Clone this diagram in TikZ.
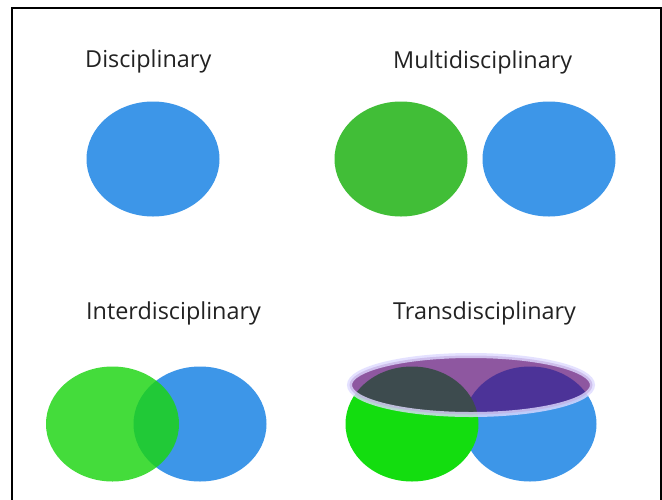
\documentclass[tikz,border=0pt]{standalone}
\usepackage{fontspec}
\setmainfont{Open Sans}
\usetikzlibrary{shapes.geometric}
\definecolor{discblue}{RGB}{61,150,232}
\definecolor{multigreen}{RGB}{65,190,55}
\definecolor{intergreen}{RGB}{27,213,17}
\definecolor{transgreen}{RGB}{19,221,15}
\definecolor{transpurple}{RGB}{84,0,111}
\definecolor{ringlav}{RGB}{222,218,255}
\definecolor{labelgray}{RGB}{34,34,34}
\tikzset{
  blob/.style={ellipse, inner sep=0pt, minimum width=133pt, minimum height=115pt},
  title/.style={anchor=base west, inner sep=0pt, text=labelgray, font=\fontsize{23.4pt}{28pt}\selectfont},
  frameline/.style={line width=2pt, black}
}
\begin{document}
\begin{tikzpicture}[x=1pt, y=-1pt]
\useasboundingbox (0,0) rectangle (662,499);
\fill[white] (0,0) rectangle (662,499);
% open frame: top and sides only
\coordinate (fbl) at (11.5,505);
\coordinate (ftl) at (11.5,7.5);
\coordinate (ftr) at (660.5,7.5);
\coordinate (fbr) at (660.5,505);
\draw[frameline] (fbl) -- (ftl) -- (ftr) -- (fbr);

% titles
\node[title] (tdisc)  at (85,67)  {Disciplinary};
\node[title] (tmulti) at (393,68) {Multidisciplinary};
\node[title] (tinter) at (86,319) {Interdisciplinary};
\node[title] (ttrans) at (393,319) {Transdisciplinary};

% disciplinary
\node[blob, fill=discblue] (d1) at (153,159) {};

% multidisciplinary
\node[blob, fill=multigreen] (m1) at (401,159) {};
\node[blob, fill=discblue]   (m2) at (549,159) {};

% interdisciplinary
\node[blob, fill=discblue] (i2) at (200,424) {};
\node[blob, fill=intergreen, fill opacity=0.82] (i1) at (112.5,424) {};

% transdisciplinary
\node[blob, fill=discblue]   (t2) at (530,424) {};
\node[blob, fill=transgreen] (t1) at (412,424) {};
\node[ellipse, inner sep=0pt, minimum width=243pt, minimum height=59pt,
      fill=transpurple, fill opacity=0.66,
      draw=ringlav, draw opacity=0.8, line width=5pt] (tring) at (471,385) {};
\end{tikzpicture}
\end{document}
